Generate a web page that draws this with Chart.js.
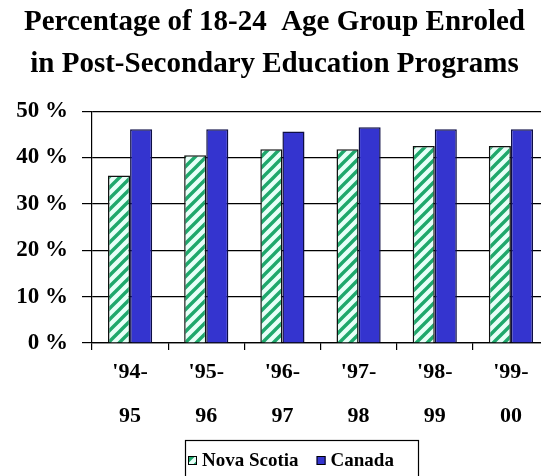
<!DOCTYPE html>
<html>
<head>
<meta charset="utf-8">
<script src="https://cdn.jsdelivr.net/npm/chart.js@4/dist/chart.umd.min.js"></script>
<style>
  html, body { margin: 0; padding: 0; background: #fff; overflow: hidden; }
  #wrap { width: 560px; height: 490px; }
</style>
</head>
<body>
<div id="wrap"><canvas id="enrolChart" width="560" height="490"></canvas></div>
<script>
// academic years, shown on two lines under each pair of bars
const years = [["'94-", '95'], ["'95-", '96'], ["'96-", '97'], ["'97-", '98'], ["'98-", '99'], ["'99-", '00']];
// % of the 18-24 group enroled
const novaScotia = [36.1, 40.5, 41.8, 41.8, 42.5, 42.5];
const canada = [46.1, 46.1, 45.6, 46.5, 46.1, 46.1];
const seriesNames = ['Nova Scotia', 'Canada'];
const titleLines = ['Percentage of 18-24  Age Group Enroled', 'in Post-Secondary Education Programs'];

const SERIF = "'Liberation Serif', 'Times New Roman', serif";

// green "/" hatch on pale cyan for the Nova Scotia bars
function hatch() {
  const c = document.createElement('canvas');
  c.width = 11; c.height = 11;
  const g = c.getContext('2d');
  g.fillStyle = '#e8fff8';
  g.fillRect(0, 0, 11, 11);
  g.strokeStyle = '#1fa86c';
  g.lineWidth = 3.4;
  g.beginPath();
  g.moveTo(-5.5, 5.5); g.lineTo(5.5, -5.5);
  g.moveTo(0, 11); g.lineTo(11, 0);
  g.moveTo(5.5, 16.5); g.lineTo(16.5, 5.5);
  g.stroke();
  return g.createPattern(c, 'repeat');
}
const nsFill = hatch();

// boxed legend under the axis labels
const boxedLegend = {
  id: 'boxedLegend',
  afterDraw(chart) {
    const ctx = chart.ctx;
    const left = 185, top = 440, w = 233, h = 48;
    ctx.save();
    ctx.strokeStyle = '#000';
    ctx.lineWidth = 1.2;
    ctx.strokeRect(left + 0.5, top + 0.5, w, h);
    ctx.font = 'bold 19px ' + SERIF;
    ctx.textBaseline = 'middle';
    let x = left + 3;
    const cy = 461;
    chart.data.datasets.forEach(ds => {
      ctx.fillStyle = ds.backgroundColor;
      ctx.fillRect(x, cy - 5, 9, 9);
      ctx.strokeStyle = '#000';
      ctx.lineWidth = 1;
      ctx.strokeRect(x + 0.5, cy - 4.5, 8, 8);
      x += 14;
      ctx.fillStyle = '#000';
      ctx.fillText(ds.label, x, cy);
      x += ctx.measureText(ds.label).width + 18;
    });
    ctx.restore();
  }
};

new Chart(document.getElementById('enrolChart'), {
  type: 'bar',
  data: {
    labels: years,
    datasets: [
      { label: seriesNames[0], data: novaScotia, backgroundColor: nsFill, borderColor: '#111', borderWidth: 1.5 },
      { label: seriesNames[1], data: canada, backgroundColor: '#3434cf', borderColor: '#0e0e45', borderWidth: 1.5 }
    ]
  },
  options: {
    responsive: false,
    animation: false,
    datasets: { bar: { categoryPercentage: 0.58, barPercentage: 1.0 } },
    layout: { padding: { left: 0, right: 11, top: 0, bottom: 52 } },
    plugins: {
      legend: { display: false },
      tooltip: { enabled: false },
      title: {
        display: true,
        text: titleLines,
        color: '#000',
        font: { family: SERIF, size: 29, weight: 'bold', lineHeight: 1.45 },
        padding: { top: 1, bottom: 26 }
      }
    },
    scales: {
      x: {
        grid: { offset: true, drawOnChartArea: false, drawTicks: true, tickLength: 7, color: '#000', lineWidth: 1.2 },
        border: { display: true, color: '#000', width: 1.2 },
        ticks: { color: '#000', padding: 0, maxRotation: 0, font: { family: SERIF, size: 22, weight: 'bold', lineHeight: 2 } },
        afterFit(scale) { scale.height = 95; }
      },
      y: {
        min: 0,
        max: 50,
        ticks: {
          stepSize: 10,
          color: '#000',
          padding: 14,
          font: { family: SERIF, size: 23, weight: 'bold' },
          callback: v => v + ' %'
        },
        grid: { color: '#000', lineWidth: 1.2, tickLength: 10 },
        border: { display: true, color: '#000', width: 1.2 },
        afterFit(scale) { scale.width = 92; }
      }
    }
  },
  plugins: [boxedLegend]
});
</script>
</body>
</html>
